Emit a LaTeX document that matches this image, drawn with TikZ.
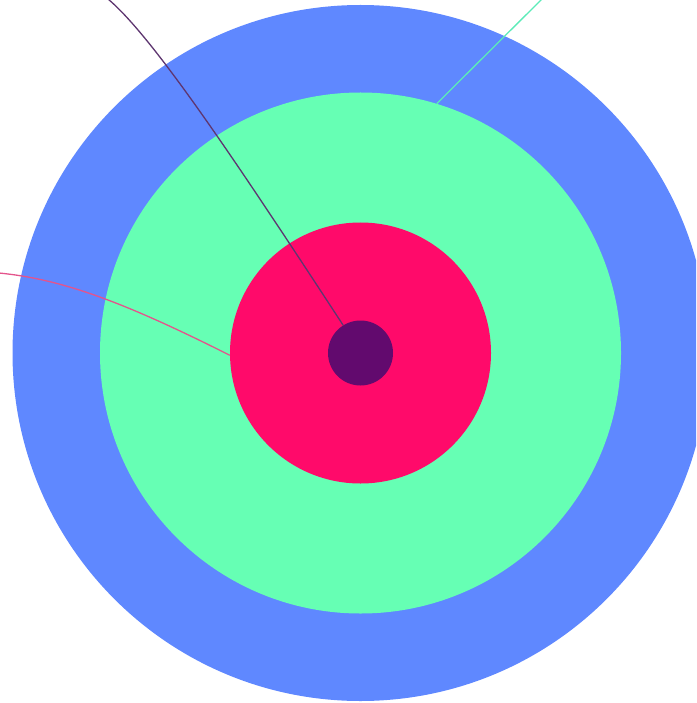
\documentclass[tikz,border=0pt]{standalone}
\begin{document}
\begin{tikzpicture}[x=1pt,y=-1pt,
  ring/.style={circle,inner sep=0pt,draw=none},
  lead/.style={line width=1.3pt}]
\definecolor{cblue}{HTML}{5F88FF}
\definecolor{cgreen}{HTML}{66FFB4}
\definecolor{cred}{HTML}{FF0A6A}
\definecolor{cpurple}{HTML}{620A6E}
\definecolor{lpurple}{HTML}{5E3670}
\definecolor{lpink}{HTML}{E4548C}
\definecolor{lcyan}{HTML}{5CEBB8}
\useasboundingbox (0,0) rectangle (696,703);
\clip (0,0) rectangle (696,703);
\node[ring,fill=cblue,minimum size=696pt] (outer) at (360.5,353) {};
\node[ring,fill=cgreen,minimum size=521pt] (mid) at (360.5,353) {};
\node[ring,fill=cred,minimum size=261pt] (inner) at (360.5,353) {};
\node[ring,fill=cpurple,minimum size=65pt] (core) at (360.5,353) {};
\coordinate (p0) at (108,-1);
\coordinate (r0) at (-1,273);
\coordinate (c0) at (542,-1);
\draw[lead,lpurple] (p0) .. controls (152,36) and (232,155) .. (core.122);
\draw[lead,lpink] (r0) .. controls (60,279) and (120,300) .. (inner.181);
\draw[lead,lcyan] (c0) -- (mid.73.5);
\end{tikzpicture}
\end{document}
